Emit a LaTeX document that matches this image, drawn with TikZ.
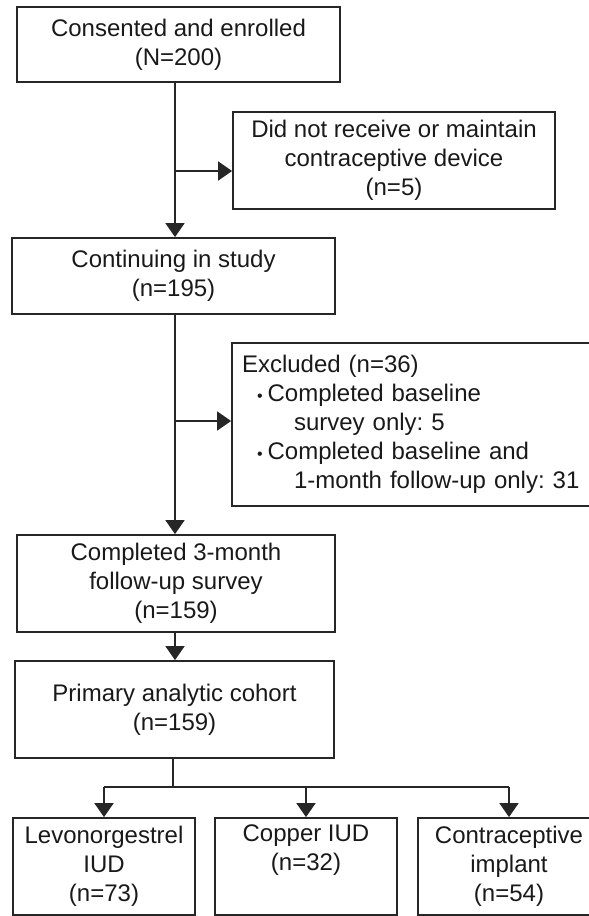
\documentclass[tikz,border=0pt]{standalone}
\usepackage{fontspec}
\setmainfont{Liberation Sans}
\usetikzlibrary{arrows.meta}
\frenchspacing

\newcommand{\bul}{\hspace*{15pt}{\fontsize{16}{16}\selectfont\textbullet}\hspace{5pt}}

\begin{document}
\begin{tikzpicture}[x=1pt, y=-1pt,
    box/.style={draw=black!85, line width=1.8pt, inner sep=0pt, align=center,
        text=black!90, font=\fontsize{24}{29}\selectfont},
    line/.style={draw=black!85, line width=1.8pt},
    arr/.style={line, -{Triangle[length=14pt, width=19pt]}}]
    \clip (0,0) rectangle (589,916);

    % Enrollment
    \node[box, minimum width=323pt, minimum height=75pt] (enrolled) at (178.5,44.5)
        {Consented and enrolled\\(N=200)};
    \node[box, minimum width=322pt, minimum height=97pt] (nodevice) at (394,160.5)
        {Did not receive or maintain\\contraceptive device\\(n=5)};
    \node[box, minimum width=323pt, minimum height=76pt] (continuing) at (173.5,276)
        {Continuing in study\\(n=195)};

    % Exclusions
    \node[box, minimum height=163pt, text width=348pt, inner xsep=10pt, align=left]
        (excluded) at (416,424.5)
        {Excluded (n=36)\\
         \bul Completed baseline\\
         \hspace*{52pt}survey only: 5\\
         \bul Completed baseline and\\
         \hspace*{52pt}1-month follow-up only: 31};
    \node[box, minimum width=318pt, minimum height=97pt] (followup) at (176,583.5)
        {Completed 3-month\\follow-up survey\\(n=159)};
    \node[box, minimum width=319pt, minimum height=97pt] (cohort) at (174.5,709.5)
        {Primary analytic cohort\\(n=159)};

    % Device groups
    \node[box, minimum width=182pt, minimum height=97pt] (lng) at (104,866.5)
        {Levonorgestrel\\IUD\\(n=73)};
    \node[box, minimum width=182pt, minimum height=97pt] (copper) at (306,866.5)
        {Copper IUD\\(n=32)\\\strut};
    \node[box, minimum width=182pt, minimum height=97pt] (implant) at (509,866.5)
        {Contraceptive\\implant\\(n=54)};

    % Connectors
    \coordinate (spine) at (175,0);
    \coordinate (stem) at (173,0);
    \coordinate (bus) at (0,787);
    \coordinate (nd) at ([yshift=-10.5pt]nodevice.west);
    \coordinate (ex) at ([yshift=3.5pt]excluded.west);
    \draw[arr] (enrolled.south -| spine) -- (continuing.north -| spine);
    \draw[arr] (nd -| spine) -- (nd);
    \draw[arr] (continuing.south -| spine) -- (followup.north -| spine);
    \draw[arr] (ex -| spine) -- (ex);
    \draw[arr] (followup.south -| spine) -- (cohort.north -| spine);
    \draw[line] (cohort.south -| stem) -- (bus -| stem);
    \draw[line] (lng.north |- bus) -- (implant.north |- bus);
    \foreach \grp in {lng, copper, implant}
        \draw[arr] (\grp.north |- bus) -- (\grp.north);
\end{tikzpicture}
\end{document}
